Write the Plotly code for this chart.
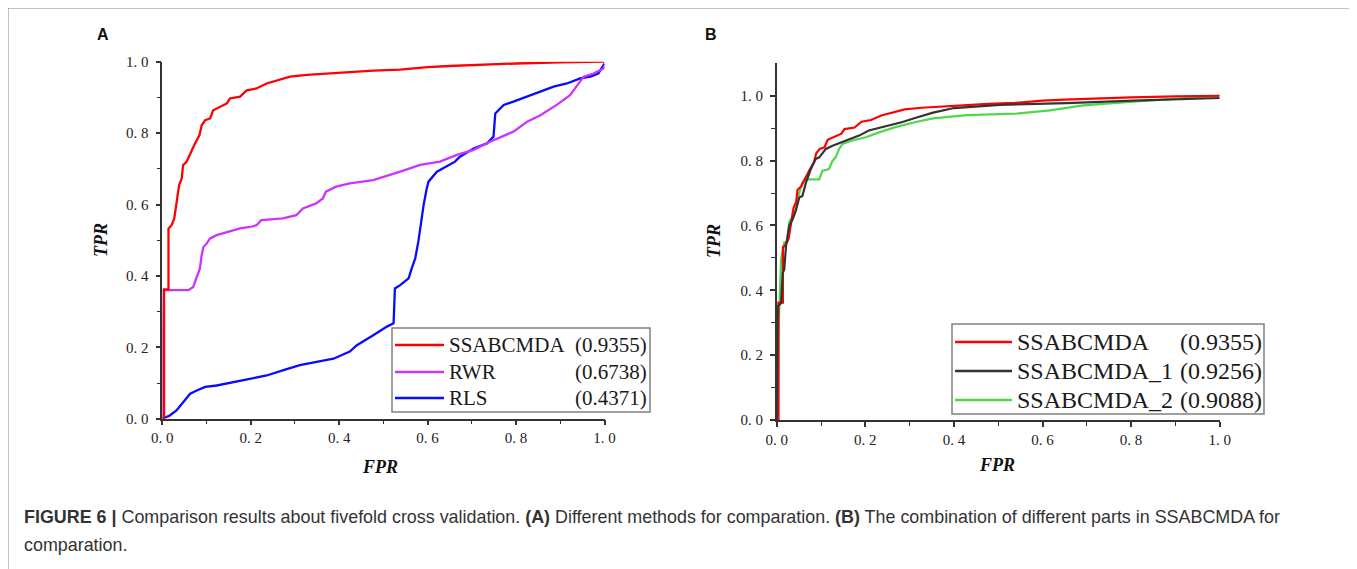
import plotly.graph_objects as go

W, H = 1357, 569
OX, OY = 8, 8  # page body margin in the browser

# ---------------- data ----------------
fpr_ssabcmda = [0, 0.004, 0.004, 0.014, 0.014, 0.021, 0.027, 0.032, 0.038, 0.044, 0.047, 0.055, 0.063,
                0.074, 0.084, 0.089, 0.097, 0.108, 0.115, 0.13, 0.146, 0.153, 0.176, 0.191, 0.213, 0.236,
                0.266, 0.289, 0.327, 0.379, 0.424, 0.477, 0.538, 0.6, 0.65, 0.704, 0.8, 0.9, 1.0]
tpr_ssabcmda = [0, 0, 0.362, 0.362, 0.533, 0.542, 0.56, 0.607, 0.654, 0.673, 0.71, 0.72, 0.743,
                0.771, 0.794, 0.822, 0.836, 0.841, 0.864, 0.874, 0.883, 0.897, 0.902, 0.92, 0.925, 0.939,
                0.949, 0.958, 0.963, 0.967, 0.972, 0.975, 0.978, 0.985, 0.988, 0.991, 0.995, 0.998, 1.0]

fpr_rwr = [0, 0.003, 0.059, 0.070, 0.078, 0.085, 0.089, 0.093, 0.1, 0.108, 0.123, 0.146, 0.176, 0.198,
           0.213, 0.224, 0.273, 0.303, 0.318, 0.348, 0.363, 0.37, 0.393, 0.424, 0.477, 0.538, 0.583,
           0.628, 0.666, 0.704, 0.741, 0.794, 0.825, 0.855, 0.892, 0.922, 0.938, 0.953, 0.975, 0.998, 1.0]
tpr_rwr = [0, 0.36, 0.36, 0.369, 0.397, 0.42, 0.458, 0.481, 0.49, 0.505, 0.514, 0.523, 0.533, 0.537,
           0.542, 0.556, 0.561, 0.57, 0.589, 0.603, 0.617, 0.636, 0.65, 0.659, 0.668, 0.692, 0.711,
           0.72, 0.739, 0.753, 0.776, 0.804, 0.832, 0.85, 0.879, 0.906, 0.934, 0.958, 0.967, 0.981, 0.99]

fpr_rls = [0, 0.017, 0.032, 0.047, 0.063, 0.078, 0.097, 0.123, 0.161, 0.198, 0.236, 0.274, 0.311, 0.349,
           0.387, 0.424, 0.44, 0.477, 0.508, 0.523, 0.526, 0.538, 0.557, 0.564, 0.572, 0.579, 0.583,
           0.591, 0.598, 0.602, 0.621, 0.643, 0.662, 0.673, 0.704, 0.734, 0.749, 0.753, 0.772, 0.794,
           0.825, 0.855, 0.885, 0.915, 0.945, 0.968, 0.986, 1.0]
tpr_rls = [0, 0.009, 0.023, 0.047, 0.07, 0.079, 0.089, 0.093, 0.103, 0.112, 0.121, 0.136, 0.15, 0.159,
           0.168, 0.188, 0.206, 0.234, 0.258, 0.267, 0.365, 0.374, 0.393, 0.421, 0.449, 0.496, 0.533,
           0.599, 0.645, 0.664, 0.692, 0.706, 0.72, 0.734, 0.757, 0.771, 0.79, 0.855, 0.879, 0.888,
           0.902, 0.916, 0.93, 0.939, 0.953, 0.958, 0.967, 0.995]

fpr_ssabcmda_1 = [0, 0.002, 0.0098, 0.0136, 0.017, 0.021, 0.028, 0.036, 0.043, 0.051, 0.058, 0.066,
                  0.077, 0.088, 0.096, 0.111, 0.126, 0.156, 0.186, 0.208, 0.239, 0.284, 0.314, 0.353,
                  0.4, 0.504, 0.654, 0.805, 1.0]
tpr_ssabcmda_1 = [0, 0.35, 0.36, 0.453, 0.464, 0.536, 0.598, 0.619, 0.645, 0.686, 0.691, 0.732,
                  0.774, 0.805, 0.81, 0.836, 0.846, 0.862, 0.877, 0.893, 0.903, 0.919, 0.932, 0.948,
                  0.962, 0.972, 0.977, 0.985, 0.993]

fpr_ssabcmda_2 = [0, 0.003, 0.0045, 0.0098, 0.0136, 0.017, 0.025, 0.028, 0.036, 0.043, 0.051, 0.058,
                  0.066, 0.096, 0.103, 0.118, 0.126, 0.133, 0.141, 0.148, 0.171, 0.201, 0.231, 0.268,
                  0.314, 0.353, 0.429, 0.541, 0.617, 0.692, 0.805, 1.0]
tpr_ssabcmda_2 = [0, 0, 0.29, 0.495, 0.521, 0.547, 0.552, 0.609, 0.629, 0.65, 0.701, 0.732,
                  0.742, 0.742, 0.768, 0.774, 0.799, 0.81, 0.836, 0.851, 0.862, 0.872, 0.887, 0.903,
                  0.919, 0.93, 0.94, 0.945, 0.955, 0.97, 0.982, 1.0]

names_a = ["SSABCMDA", "RWR", "RLS"]
auc_a = ["(0.9355)", "(0.6738)", "(0.4371)"]
names_b = ["SSABCMDA", "SSABCMDA_1", "SSABCMDA_2"]
auc_b = ["(0.9355)", "(0.9256)", "(0.9088)"]

tick_vals = [0, 0.2, 0.4, 0.6, 0.8, 1.0]
tick_text = ["0. 0", "0. 2", "0. 4", "0. 6", "0. 8", "1. 0"]
minor_vals = [0.1, 0.3, 0.5, 0.7, 0.9]

RED, MAG, BLUE = "#ff0000", "#cc33ff", "#0a0aff"
BLACK, GREEN = "#333333", "#4cd94c"
colors_a = [RED, MAG, BLUE]
colors_b = [RED, BLACK, GREEN]

# ---------------- helpers (screen pixel -> paper) ----------------
def px(x):
    return (x - OX) / W

def py(y):
    return 1 - (y - OY) / H

fig = go.Figure()

series_a = [(fpr_ssabcmda, tpr_ssabcmda), (fpr_rwr, tpr_rwr), (fpr_rls, tpr_rls)]
series_b = [(fpr_ssabcmda, tpr_ssabcmda), (fpr_ssabcmda_1, tpr_ssabcmda_1), (fpr_ssabcmda_2, tpr_ssabcmda_2)]

# draw order: keep red on top in A
for (xs, ys), nm, c in reversed(list(zip(series_a, names_a, colors_a))):
    fig.add_trace(go.Scatter(x=xs, y=ys, mode="lines", name=nm, line=dict(color=c, width=2.3),
                             xaxis="x", yaxis="y", showlegend=False, cliponaxis=False))
for i in [2, 0, 1]:
    xs, ys = series_b[i]
    fig.add_trace(go.Scatter(x=xs, y=ys, mode="lines", name=names_b[i], line=dict(color=colors_b[i], width=2.2),
                             xaxis="x2", yaxis="y2", showlegend=False, cliponaxis=False))

tickfont = dict(family="Liberation Serif", size=15, color="#222222")
axis_common = dict(showline=True, linecolor="#333333", linewidth=1.5, showgrid=False, zeroline=False,
                   ticks="outside", ticklen=5, tickwidth=1.5, tickcolor="#333333",
                   tickmode="array", tickvals=tick_vals, ticktext=tick_text, tickfont=tickfont,
                   minor=dict(ticks="outside", ticklen=4, tickwidth=1.2, tickcolor="#333333",
                              tickmode="array", tickvals=minor_vals, showgrid=False),
                   automargin=False, fixedrange=True)

fig.update_layout(
    width=W, height=H, autosize=False,
    margin=dict(l=0, r=0, t=0, b=0, pad=0, autoexpand=False),
    paper_bgcolor="white", plot_bgcolor="white",
    xaxis=dict(domain=[px(162.3), px(604.5)], range=[0, 1], anchor="y", ticklabelstandoff=0, **axis_common),
    yaxis=dict(domain=[py(418.7), py(61.7)], range=[0, 1], anchor="x", ticklabelstandoff=4, **axis_common),
    xaxis2=dict(domain=[px(776.7), px(1219.7)], range=[0, 1], anchor="y2", ticklabelstandoff=0, **axis_common),
    yaxis2=dict(domain=[py(420), py(63.3)], range=[0, 1.1], anchor="x2", ticklabelstandoff=4, **axis_common),
    showlegend=False,
)

annotations = []
shapes = []

# figure frame
shapes.append(dict(type="rect", xref="paper", yref="paper", x0=px(8), x1=px(1355), y0=py(620), y1=py(8),
                   line=dict(color="#888888", width=1), layer="below"))

# panel letters
for letter, x in [("A", 102.5), ("B", 711)]:
    annotations.append(dict(text="<b>%s</b>" % letter, x=px(x), y=py(34), xref="paper", yref="paper",
                            showarrow=False, xanchor="center", yanchor="middle",
                            font=dict(family="Liberation Sans", size=16, color="#111111")))

# axis titles
title_font = dict(family="Liberation Serif", size=18, color="#111111")
for txt, x, y, ang in [("TPR", 101, 240, -90), ("FPR", 380, 467, 0), ("TPR", 714, 241, -90), ("FPR", 997, 465, 0)]:
    annotations.append(dict(text="<b><i>%s</i></b>" % txt, x=px(x), y=py(y), xref="paper", yref="paper",
                            showarrow=False, xanchor="center", yanchor="middle", textangle=ang,
                            font=title_font))

# legends (box, key lines, names, AUC values)
def add_legend(box, rows, line_x, name_x, val_x, names, vals, cols, size):
    shapes.append(dict(type="rect", xref="paper", yref="paper", x0=px(box[0]), x1=px(box[1]),
                       y0=py(box[3]), y1=py(box[2]), line=dict(color="#808080", width=1.5),
                       fillcolor="white", layer="above"))
    for ry, nm, v, c in zip(rows, names, vals, cols):
        shapes.append(dict(type="line", xref="paper", yref="paper", x0=px(line_x[0]), x1=px(line_x[1]),
                           y0=py(ry), y1=py(ry), line=dict(color=c, width=2.5), layer="above"))
        f = dict(family="Liberation Serif", size=size, color="#1a1a1a")
        annotations.append(dict(text=nm, x=px(name_x), y=py(ry), xref="paper", yref="paper",
                                showarrow=False, xanchor="left", yanchor="middle", font=f))
        annotations.append(dict(text=v, x=px(val_x), y=py(ry), xref="paper", yref="paper",
                                showarrow=False, xanchor="right", yanchor="middle", font=f))

add_legend((392, 650, 328, 412), [345, 372, 398], (395, 444), 447, 649, names_a, auc_a, colors_a, 21)
add_legend((952, 1264, 324, 414), [342, 371, 400], (955, 1012), 1015, 1264, names_b, auc_b, colors_b, 24)

# caption
cap_font = dict(family="Liberation Sans", size=17.9, color="#333333")
annotations.append(dict(
    text="<b>FIGURE 6 |</b> Comparison results about fivefold cross validation. <b>(A)</b> Different methods "
         "for comparation. <b>(B)</b> The combination of different parts in SSABCMDA for",
    x=px(22), y=py(517), xref="paper", yref="paper", showarrow=False, xanchor="left", yanchor="middle",
    font=cap_font))
annotations.append(dict(text="comparation.", x=px(22), y=py(545), xref="paper", yref="paper",
                        showarrow=False, xanchor="left", yanchor="middle", font=cap_font))

fig.update_layout(annotations=annotations, shapes=shapes)
fig.write_html("out.html")
